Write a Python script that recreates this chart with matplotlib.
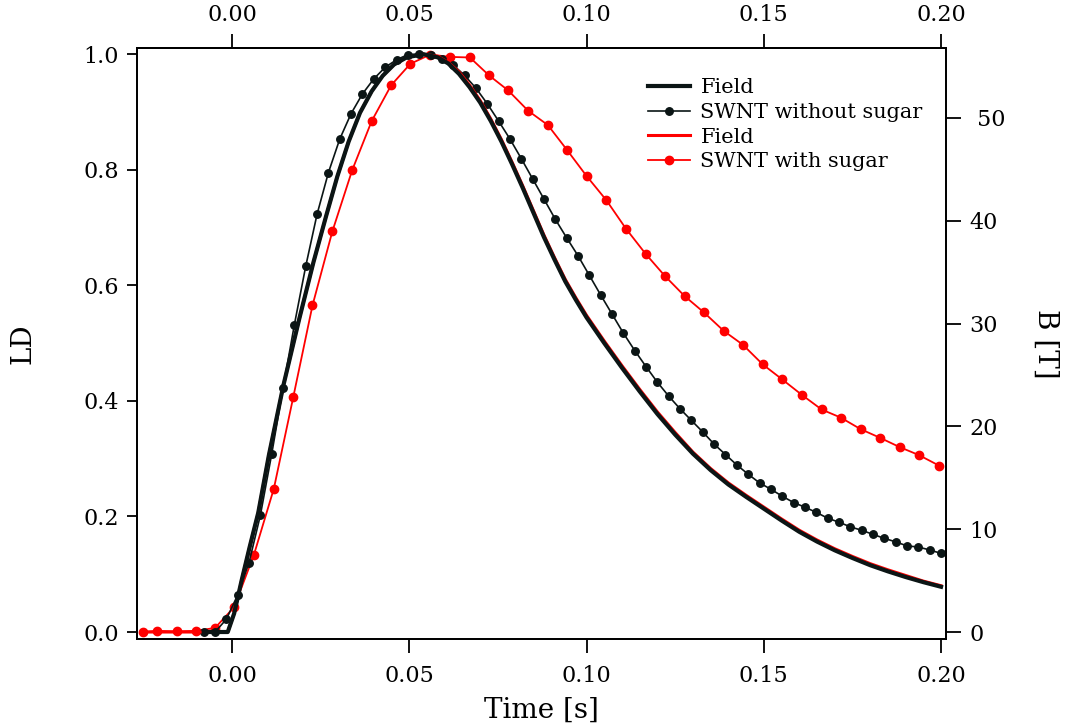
import matplotlib
matplotlib.use("Agg")
import matplotlib.pyplot as plt

# ---------------- data ----------------
# SWNT without sugar: time [s] and LD
t_nosugar = [-0.0080, -0.0048, -0.0016, 0.0016, 0.0048, 0.0080, 0.0112, 0.0144, 0.0176, 0.0208,
             0.0240, 0.0272, 0.0304, 0.0336, 0.0368, 0.0400, 0.0432, 0.0464, 0.0496, 0.0528,
             0.0560, 0.0592, 0.0624, 0.0656, 0.0688, 0.0720, 0.0752, 0.0784, 0.0816, 0.0848,
             0.0880, 0.0912, 0.0944, 0.0976, 0.1008, 0.1040, 0.1072, 0.1104, 0.1136, 0.1168,
             0.1200, 0.1232, 0.1264, 0.1296, 0.1328, 0.1360, 0.1392, 0.1424, 0.1456, 0.1488,
             0.1520, 0.1552, 0.1584, 0.1616, 0.1648, 0.1680, 0.1712, 0.1744, 0.1776, 0.1808,
             0.1840, 0.1872, 0.1904, 0.1936, 0.1968, 0.2000]
ld_nosugar = [0.000, 0.000, 0.022, 0.064, 0.120, 0.202, 0.308, 0.422, 0.532, 0.633,
              0.723, 0.795, 0.853, 0.897, 0.931, 0.957, 0.977, 0.990, 0.999, 1.000,
              0.998, 0.992, 0.981, 0.963, 0.941, 0.914, 0.884, 0.853, 0.819, 0.784,
              0.749, 0.714, 0.682, 0.651, 0.617, 0.583, 0.550, 0.517, 0.487, 0.459,
              0.432, 0.408, 0.386, 0.366, 0.346, 0.325, 0.307, 0.289, 0.273, 0.258,
              0.247, 0.235, 0.224, 0.216, 0.207, 0.197, 0.190, 0.182, 0.176, 0.169,
              0.162, 0.156, 0.149, 0.147, 0.142, 0.136]

# SWNT with sugar: time [s] and LD
t_sugar = [-0.0250, -0.0212, -0.0156, -0.0102, -0.0048, 0.0006, 0.0062, 0.0118, 0.0173, 0.0227,
           0.0283, 0.0339, 0.0394, 0.0449, 0.0503, 0.0559, 0.0615, 0.0671, 0.0725, 0.0779,
           0.0835, 0.0891, 0.0945, 0.1000, 0.1056, 0.1111, 0.1167, 0.1221, 0.1277, 0.1331,
           0.1387, 0.1441, 0.1497, 0.1552, 0.1608, 0.1663, 0.1717, 0.1773, 0.1828, 0.1883,
           0.1938, 0.1994]
ld_sugar = [0.000, 0.002, 0.001, 0.002, 0.007, 0.043, 0.134, 0.248, 0.407, 0.565,
            0.693, 0.799, 0.884, 0.946, 0.983, 0.999, 0.995, 0.994, 0.963, 0.937,
            0.902, 0.877, 0.834, 0.789, 0.747, 0.698, 0.654, 0.616, 0.581, 0.553,
            0.521, 0.497, 0.463, 0.437, 0.410, 0.385, 0.371, 0.351, 0.336, 0.320,
            0.306, 0.288]

# Magnetic field pulses [T] (right axis)
t_field_1 = [-0.0080, -0.0012, 0.0006, 0.0027, 0.0050, 0.0074, 0.0104, 0.0145, 0.0190, 0.0230,
             0.0265, 0.0297, 0.0329, 0.0361, 0.0394, 0.0425, 0.0457, 0.0493, 0.0540, 0.0580,
             0.0610, 0.0640, 0.0670, 0.0700, 0.0730, 0.0760, 0.0790, 0.0820, 0.0850, 0.0880,
             0.0910, 0.0940, 0.0970, 0.1000, 0.1050, 0.1100, 0.1150, 0.1200, 0.1250, 0.1300,
             0.1350, 0.1400, 0.1450, 0.1500, 0.1550, 0.1600, 0.1650, 0.1700, 0.1750, 0.1800,
             0.1850, 0.1900, 0.1950, 0.2000]
b_field_1 = [0.0, 0.0, 1.8, 5.0, 8.3, 11.6, 17.2, 24.0, 30.5, 36.0,
             40.4, 44.3, 47.7, 50.5, 52.6, 54.1, 55.2, 55.9, 56.2, 55.9,
             55.3, 54.3, 53.0, 51.5, 49.7, 47.7, 45.5, 43.2, 40.8, 38.4,
             36.2, 34.1, 32.3, 30.6, 28.1, 25.7, 23.4, 21.2, 19.2, 17.35,
             15.75, 14.35, 13.15, 12.0, 10.85, 9.75, 8.8, 7.95, 7.2, 6.5,
             5.9, 5.35, 4.85, 4.4]

t_field_2 = [-0.0250, -0.0012, 0.0006, 0.0027, 0.0050, 0.0074, 0.0104, 0.0145, 0.0190, 0.0230,
             0.0265, 0.0297, 0.0329, 0.0361, 0.0394, 0.0425, 0.0457, 0.0493, 0.0540, 0.0580,
             0.0610, 0.0640, 0.0670, 0.0700, 0.0730, 0.0760, 0.0790, 0.0820, 0.0850, 0.0880,
             0.0910, 0.0940, 0.0970, 0.1000, 0.1050, 0.1100, 0.1150, 0.1200, 0.1250, 0.1300,
             0.1350, 0.1400, 0.1450, 0.1500, 0.1550, 0.1600, 0.1650, 0.1700, 0.1750, 0.1800,
             0.1850, 0.1900, 0.1950, 0.2000]
b_field_2 = [0.0, 0.0, 1.8, 5.0, 8.3, 11.6, 17.2, 24.0, 30.5, 36.0,
             40.4, 44.3, 47.7, 50.5, 52.6, 54.1, 55.2, 55.9, 56.2, 56.0,
             55.4, 54.5, 53.2, 51.7, 49.9, 47.9, 45.7, 43.4, 41.0, 38.6,
             36.4, 34.3, 32.5, 30.8, 28.3, 25.9, 23.6, 21.4, 19.4, 17.5,
             15.9, 14.5, 13.3, 12.15, 11.0, 9.9, 8.95, 8.1, 7.35, 6.65,
             6.05, 5.5, 4.95, 4.5]

x_ticks = [0.00, 0.05, 0.10, 0.15, 0.20]
x_ticklabels = ["0.00", "0.05", "0.10", "0.15", "0.20"]
ld_ticks = [0.0, 0.2, 0.4, 0.6, 0.8, 1.0]
ld_ticklabels = ["0.0", "0.2", "0.4", "0.6", "0.8", "1.0"]
b_ticks = [0, 10, 20, 30, 40, 50]
b_ticklabels = ["0", "10", "20", "30", "40", " 50"]

labels = ["Field", "SWNT without sugar", "Field", "SWNT with sugar"]

# ---------------- style ----------------
plt.rcParams['font.family'] = ['DejaVu Serif']
BLACK = '#0b1515'
RED = '#ff0000'
TICK_FS = 16

fig = plt.figure(figsize=(10.68, 7.28), dpi=100)
ax = fig.add_axes([137/1068, 1-639/728, (946-137)/1068, (639-48)/728])
ax2 = ax.twinx()

ld_lo, ld_hi = -0.0121, 1.0104
scale = 56.22
ax.set_xlim(-0.0268, 0.2014)
ax.set_ylim(ld_lo, ld_hi)
ax2.set_ylim(ld_lo * scale, ld_hi * scale)

l_nos, = ax.plot(t_nosugar, ld_nosugar, '-o', color=BLACK, lw=1.2, ms=5.4, zorder=3)
l_sug, = ax.plot(t_sugar, ld_sugar, '-o', color=RED, lw=1.3, ms=6.0, zorder=2)
l_f2, = ax2.plot(t_field_2, b_field_2, '-', color=RED, lw=2.2, zorder=2)
l_f1, = ax2.plot(t_field_1, b_field_1, '-', color=BLACK, lw=3.0, zorder=3)

for a in (ax, ax2):
    for s in a.spines.values():
        s.set_linewidth(1.3)
        s.set_color('black')

ax.set_xticks(x_ticks)
ax.set_xticklabels(x_ticklabels)
ax.set_yticks(ld_ticks)
ax.set_yticklabels(ld_ticklabels)
ax.tick_params(axis='x', direction='out', length=10, width=1.3, labelsize=TICK_FS, pad=9)
ax.tick_params(axis='y', direction='out', length=7, width=1.3, labelsize=TICK_FS, pad=6)
ax2.set_yticks(b_ticks)
ax2.set_yticklabels(b_ticklabels)
ax2.tick_params(axis='y', direction='out', length=11, width=1.3, labelsize=TICK_FS, pad=6)

top = ax.secondary_xaxis('top')
top.set_xticks(x_ticks)
top.set_xticklabels(x_ticklabels)
top.tick_params(axis='x', direction='out', length=10, width=1.3, labelsize=TICK_FS, pad=6)
top.spines['top'].set_linewidth(1.3)

ax.set_xlabel("Time [s]", fontsize=20, labelpad=7)
ax.set_ylabel("LD", fontsize=20, labelpad=34)
ax2.set_ylabel("B [T]", fontsize=20, rotation=270, labelpad=39)

handles = [l_f1, l_nos, l_f2, l_sug]
ax2.legend(handles, labels, loc='upper left',
           bbox_to_anchor=((640-137)/(946-137), (639-70)/(639-48)),
           frameon=False, fontsize=15, labelspacing=0.27, handlelength=2.0, handletextpad=0.5,
           borderaxespad=0.0)

fig.savefig("out.png", dpi=100)
